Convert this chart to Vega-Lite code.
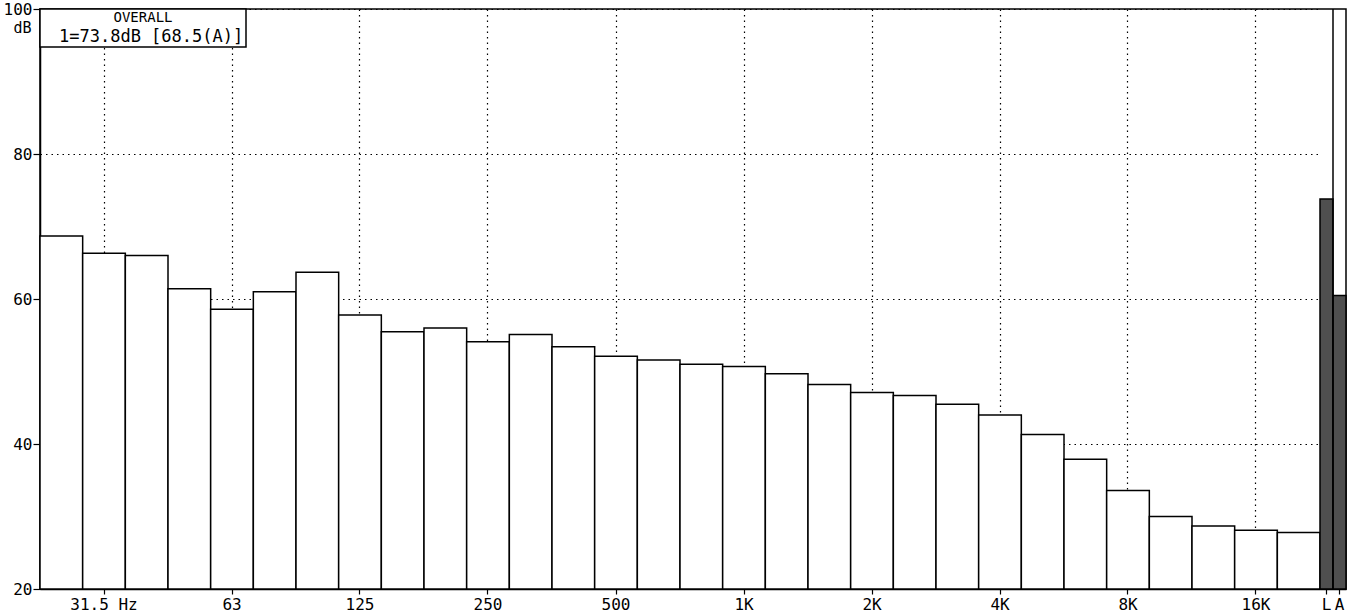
{
  "$schema": "https://vega.github.io/schema/vega-lite/v6.json",
  "width": 1306,
  "height": 580,
  "autosize": {"type": "none"},
  "padding": {"left": 40, "top": 9, "right": 10, "bottom": 25},
  "background": "white",
  "config": {
    "view": {"stroke": "black", "strokeWidth": 1.5},
    "font": "DejaVu Sans Mono",
    "axis": {
      "labelFont": "DejaVu Sans Mono",
      "labelFontSize": 16,
      "labelColor": "black",
      "domainColor": "black",
      "domainWidth": 1.5,
      "tickColor": "black",
      "tickWidth": 1.2,
      "gridColor": "black",
      "gridDash": [1.5, 4],
      "gridWidth": 1.2,
      "gridOpacity": 1
    },
    "legend": {
      "strokeColor": "black",
      "strokeWidth": 1.5,
      "fillColor": "white",
      "padding": 2,
      "titleFont": "DejaVu Sans Mono",
      "titleFontSize": 14,
      "titleFontWeight": "normal",
      "titleColor": "black",
      "titleAnchor": "middle",
      "titlePadding": 3,
      "labelFont": "DejaVu Sans Mono",
      "labelFontSize": 17,
      "labelColor": "black",
      "labelLimit": 0,
      "labelOffset": 0,
      "symbolSize": 0,
      "symbolOpacity": 0,
      "symbolStrokeWidth": 0
    }
  },
  "datasets": {
    "third_octave": [
      {"band": "25", "level": 68.7},
      {"band": "31.5", "level": 66.3},
      {"band": "40", "level": 66.0},
      {"band": "50", "level": 61.4},
      {"band": "63", "level": 58.6},
      {"band": "80", "level": 61.0},
      {"band": "100", "level": 63.7},
      {"band": "125", "level": 57.8},
      {"band": "160", "level": 55.5},
      {"band": "200", "level": 56.0},
      {"band": "250", "level": 54.1},
      {"band": "315", "level": 55.1},
      {"band": "400", "level": 53.4},
      {"band": "500", "level": 52.1},
      {"band": "630", "level": 51.6},
      {"band": "800", "level": 51.0},
      {"band": "1K", "level": 50.7},
      {"band": "1.25K", "level": 49.7},
      {"band": "1.6K", "level": 48.2},
      {"band": "2K", "level": 47.1},
      {"band": "2.5K", "level": 46.7},
      {"band": "3.15K", "level": 45.5},
      {"band": "4K", "level": 44.0},
      {"band": "5K", "level": 41.3},
      {"band": "6.3K", "level": 37.9},
      {"band": "8K", "level": 33.6},
      {"band": "10K", "level": 30.0},
      {"band": "12.5K", "level": 28.7},
      {"band": "16K", "level": 28.1},
      {"band": "20K", "level": 27.8}
    ],
    "totals": [
      {"band": "L", "level": 73.8},
      {"band": "A", "level": 60.5}
    ],
    "overall": [
      {"reading": "1=73.8dB [68.5(A)]"}
    ]
  },
  "layer": [
    {
      "data": {"name": "third_octave"},
      "mark": {"type": "bar", "fill": "white", "stroke": "black", "strokeWidth": 1.5},
      "encoding": {
        "x": {
          "field": "band",
          "type": "ordinal",
          "sort": null,
          "scale": {
            "type": "band",
            "domain": ["25", "31.5", "40", "50", "63", "80", "100", "125", "160", "200", "250", "315", "400", "500", "630", "800", "1K", "1.25K", "1.6K", "2K", "2.5K", "3.15K", "4K", "5K", "6.3K", "8K", "10K", "12.5K", "16K", "20K"],
            "paddingInner": 0,
            "paddingOuter": 0,
            "range": [0, 1280]
          },
          "axis": {
            "orient": "bottom",
            "title": null,
            "values": ["31.5", "63", "125", "250", "500", "1K", "2K", "4K", "8K", "16K"],
            "labelExpr": "datum.value == '31.5' ? '31.5 Hz' : datum.value",
            "labelAngle": 0,
            "labelPadding": 2,
            "tickSize": 5,
            "bandPosition": 0.5,
            "grid": true
          }
        },
        "y": {
          "field": "level",
          "type": "quantitative",
          "scale": {"domain": [20, 100], "nice": false, "zero": false},
          "axis": {
            "values": [20, 40, 60, 80, 100],
            "title": "dB",
            "titleAngle": 0,
            "titleAlign": "right",
            "titleBaseline": "middle",
            "titleX": -9,
            "titleY": 18,
            "titleFont": "DejaVu Sans Mono",
            "titleFontSize": 15,
            "titleFontWeight": "normal",
            "titleColor": "black",
            "tickSize": 7,
            "labelPadding": 1,
            "grid": true
          }
        },
        "y2": {"datum": 20}
      }
    },
    {
      "encoding": {
        "x": {
          "field": "band",
          "type": "ordinal",
          "sort": null,
          "scale": {
            "type": "band",
            "domain": ["L", "A"],
            "paddingInner": 0,
            "paddingOuter": 0,
            "range": [1280, 1306]
          },
          "axis": {
            "orient": "bottom",
            "title": null,
            "labelAngle": 0,
            "labelPadding": 2,
            "tickSize": 5,
            "grid": false
          }
        }
      },
      "layer": [
        {
          "data": {"name": "totals"},
          "mark": {"type": "bar", "fill": "#4f4f4f", "stroke": "black", "strokeWidth": 1.5},
          "encoding": {
            "y": {"field": "level", "type": "quantitative"},
            "y2": {"datum": 20}
          }
        },
        {
          "data": {"name": "overall"},
          "mark": {"type": "rule", "strokeWidth": 1.5},
          "encoding": {
            "x": {"datum": "A", "type": "ordinal", "bandPosition": 0},
            "y": {"datum": 20, "type": "quantitative"},
            "y2": {"datum": 100},
            "color": {
              "field": "reading",
              "type": "nominal",
              "scale": {"range": ["black"]},
              "legend": {"title": "OVERALL", "orient": "top-left", "offset": 0}
            }
          }
        }
      ]
    }
  ],
  "resolve": {"scale": {"x": "independent"}, "axis": {"x": "independent"}}
}
